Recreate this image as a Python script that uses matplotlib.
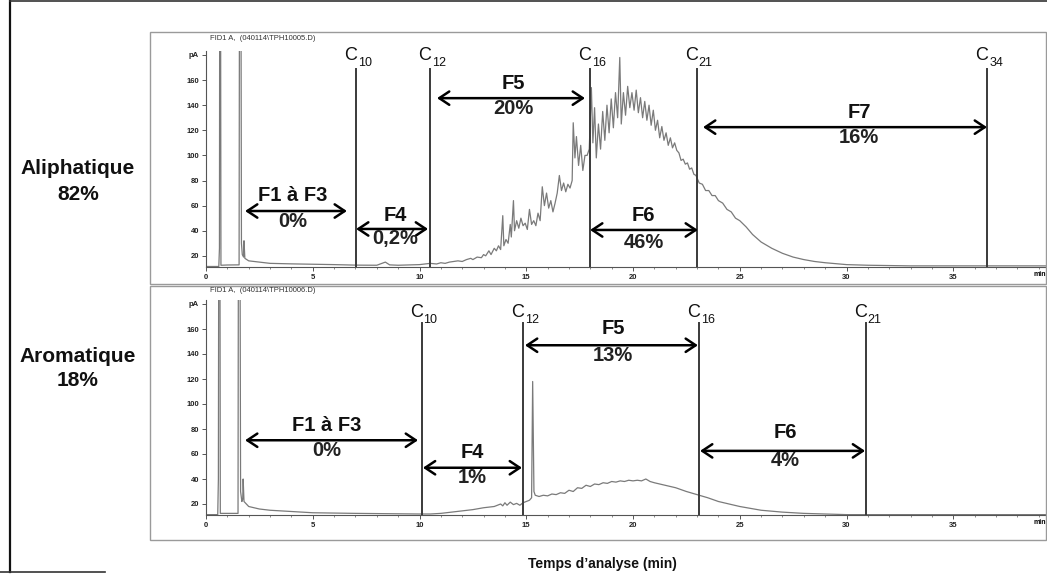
import matplotlib
matplotlib.use("Agg")
import matplotlib.pyplot as plt
from matplotlib.lines import Line2D
from matplotlib.patches import Rectangle
from matplotlib import font_manager

# --- chromatogram data (time in min, FID signal in pA) ---
aliph_time = [0.0, 0.60, 0.63, 0.65, 0.67, 0.70, 1.0, 1.55, 1.58, 1.62, 1.66, 1.70, 1.76, 1.78, 1.82,
              2.0, 2.5, 3.0, 4.0, 5.0, 6.0, 7.0, 8.0, 8.4, 8.6, 9.0, 10.0, 10.5,
              10.8, 11.0, 11.2, 11.4, 11.6, 11.8, 12.0, 12.2, 12.4, 12.5, 12.7, 12.9, 13.0, 13.1,
              13.25, 13.35, 13.5, 13.6, 13.7, 13.8, 13.9, 13.95, 14.05, 14.15, 14.25, 14.3, 14.4,
              14.45, 14.55, 14.65, 14.75, 14.85, 14.95, 15.05, 15.15, 15.25, 15.35, 15.45, 15.55,
              15.65, 15.75, 15.85, 15.95, 16.05, 16.15, 16.25, 16.35, 16.45, 16.55, 16.65, 16.75,
              16.85, 16.95, 17.05, 17.15, 17.2, 17.28, 17.35, 17.45, 17.55, 17.65, 17.75, 17.85,
              17.95, 18.05, 18.12, 18.2, 18.28, 18.38, 18.48, 18.58, 18.68, 18.78, 18.88, 18.98,
              19.08, 19.18, 19.28, 19.38, 19.45, 19.55, 19.65, 19.75, 19.85, 19.95, 20.05, 20.15,
              20.25, 20.35, 20.45, 20.55, 20.65, 20.75, 20.85, 20.95, 21.05, 21.15, 21.25, 21.35,
              21.45, 21.55, 21.65, 21.75, 21.85, 21.95, 22.05, 22.15, 22.25, 22.35, 22.45, 22.55,
              22.65, 22.75, 22.85, 22.95, 23.1, 23.25, 23.4, 23.55, 23.7, 23.85, 24.0, 24.2, 24.4,
              24.6, 24.8, 25.0, 25.3, 25.6, 26.0, 26.5, 27.0, 27.5, 28.0, 28.5, 29.0, 30.0, 31.0,
              33.0, 36.0, 39.4]
aliph_signal = [11.5, 11.5, 26, 400, 400, 12.5, 12.7, 12.8, 400, 400, 30, 21, 19, 32, 18,
                16, 15, 14, 13.6, 13.3, 13, 12.6, 12.5, 15, 12.8, 12.5, 13, 14,
                13.5, 14.5, 14, 15, 15.5, 16, 15.5, 17, 18, 17, 19, 18.5, 21, 20,
                24, 21, 26, 24, 28, 25, 52, 28, 33, 30, 45, 35, 64,
                40, 48, 42, 50, 44, 46, 41, 57, 45, 48, 44, 54,
                48, 75, 60, 70, 58, 64, 55, 62, 70, 84, 72, 78,
                71, 77, 74, 80, 126, 98, 115, 92, 108, 88, 100, 100,
                105, 154, 110, 138, 98, 125, 105, 135, 112, 140, 118, 145,
                122, 150, 130, 178, 125, 150, 132, 155, 138, 150, 136, 152,
                134, 146, 130, 143, 128, 140, 124, 136, 120, 128, 114, 123,
                112, 118, 108, 114, 106, 110, 104, 102, 96, 97, 93, 94,
                89, 90, 85, 84, 78, 77, 72, 72, 68, 68, 64, 62, 57,
                55, 50, 48, 43, 37, 31, 26, 22, 19, 17, 15.5, 14.5, 13, 12.5,
                12, 12, 12]

arom_time = [0.0, 0.55, 0.58, 0.61, 0.64, 0.67, 1.0, 1.50, 1.53, 1.57, 1.62, 1.68, 1.72, 1.74, 1.78,
             2.0, 2.5, 3.0, 4.0, 5.0, 7.0, 10.0, 10.5, 11.0, 11.5, 12.0, 12.5, 13.0, 13.5, 13.8,
             13.9, 14.0, 14.1, 14.25, 14.4, 14.55, 14.7, 14.85, 15.0, 15.15, 15.25, 15.3, 15.36,
             15.42, 15.6, 15.8, 16.0, 16.2, 16.4, 16.6, 16.8, 17.0, 17.2, 17.4, 17.6, 17.8, 18.0,
             18.2, 18.4, 18.6, 18.8, 19.0, 19.2, 19.4, 19.6, 19.8, 20.0, 20.2, 20.4, 20.6, 20.8,
             21.0, 21.5, 22.0, 22.5, 23.0, 23.5, 24.0, 24.5, 25.0, 25.5, 26.0, 27.0, 28.0, 29.0,
             30.0, 35.0, 39.4]
arom_signal = [11.5, 11.5, 40, 400, 400, 12.5, 12.5, 12.5, 400, 400, 30, 22, 24, 40, 22,
               18, 16, 15, 14, 13, 12.5, 12, 12, 12.5, 13.5, 14.5, 15.5, 17, 18, 20,
               18.5, 21, 19, 21.5, 19.5, 20.5, 19, 21, 22, 23, 25, 118, 30,
               27, 26, 27, 26.5, 28, 27.5, 29, 28.5, 31, 30, 33, 32.5, 35, 34,
               36, 35.5, 37, 36.5, 38, 37.5, 38.5, 38, 39, 38.5, 39, 38.5, 40, 38,
               37, 35, 33, 30, 27.5, 25, 22, 20, 18, 16.5, 15, 13.5, 12.5, 12,
               11.5, 11.5, 11.5]

# carbon-number markers (retention time of each n-alkane)
aliph_cuts = [7.03, 10.5, 18.0, 23.0, 36.6]
aliph_carbons = ["10", "12", "16", "21", "34"]
arom_cuts = [10.1, 14.85, 23.1, 30.9]
arom_carbons = ["10", "12", "16", "21"]

# fraction names and their share of each family
aliph_fractions = ["F1 à F3", "F4", "F5", "F6", "F7"]
aliph_shares = ["0%", "0,2%", "20%", "46%", "16%"]
arom_fractions = ["F1 à F3", "F4", "F5", "F6"]
arom_shares = ["0%", "1%", "13%", "4%"]

families = ["Aliphatique", "Aromatique"]
family_shares = ["82%", "18%"]

x_ticks = [0, 5, 10, 15, 20, 25, 30, 35]
y_ticks = [20, 40, 60, 80, 100, 120, 140, 160]

W, H = 1047, 576
installed = {f.name for f in font_manager.fontManager.ttflist}
narrow = "Liberation Sans Narrow" if "Liberation Sans Narrow" in installed else "Liberation Sans"

plt.rcParams["font.family"] = "Liberation Sans"

fig = plt.figure(figsize=(W / 100, H / 100), dpi=100)


def px_axes(left, top, right, bottom):
    return fig.add_axes([left / W, 1 - bottom / H, (right - left) / W, (bottom - top) / H])


def fig_xy(x, y):
    return x / W, 1 - y / H


# panel frames
for top, bottom in [(32, 284), (286, 540)]:
    fig.patches.append(Rectangle(fig_xy(150, bottom), (1046 - 150) / W, (bottom - top) / H,
                                 transform=fig.transFigure, fill=False,
                                 edgecolor="#9a9a9a", lw=1.0))

# outer border
fig.lines.append(Line2D([10 / W, 10 / W], [1 - 572 / H, 1.0], transform=fig.transFigure,
                        color="#111111", lw=1.6))
fig.lines.append(Line2D([10 / W, 1.0], [1 - 1 / H, 1 - 1 / H], transform=fig.transFigure,
                        color="#333333", lw=1.2))
fig.lines.append(Line2D([0, 105 / W], [1 - 572 / H, 1 - 572 / H], transform=fig.transFigure,
                        color="#333333", lw=1.2))


def style_axes(ax, ylim):
    ax.set_xlim(0, 39.39)
    ax.set_ylim(*ylim)
    for s in ["top", "right"]:
        ax.spines[s].set_visible(False)
    for s in ["left", "bottom"]:
        ax.spines[s].set_color("#555555")
        ax.spines[s].set_linewidth(0.8)
    ax.set_xticks(x_ticks)
    ax.set_xticks(range(0, 40), minor=True)
    ax.set_yticks(y_ticks + [180])
    ax.set_yticklabels([str(v) for v in y_ticks] + ["pA"])
    ax.tick_params(axis="both", length=3, width=0.7, color="#555555", labelsize=5.5,
                   labelcolor="#222222", pad=2)
    ax.tick_params(axis="x", which="minor", length=1.5, width=0.6, color="#777777")
    for lab in ax.get_xticklabels() + ax.get_yticklabels():
        lab.set_fontweight("bold")
        lab.set_family(narrow)
    ax.text(39.35, ylim[0] - 3, "min", fontsize=5, fontweight="bold", family=narrow,
            ha="right", va="top", clip_on=False)
    ax.patch.set_alpha(0)


def draw_panel(ax, t, sig, cuts, carbons, c_top, c_base, sub_drop, arrows, names, shares,
               label_pos):
    ax.plot(t, sig, color="#7a7a7a", lw=0.9, zorder=2)
    for x, c in zip(cuts, carbons):
        ax.plot([x, x], [ax.get_ylim()[0], c_top], color="#3a3a3a", lw=1.4, zorder=3)
        ax.text(x + 0.05, c_base, "C", fontsize=13, ha="right", va="baseline", color="#111111")
        ax.text(x + 0.08, c_base - sub_drop, c, fontsize=9, ha="left", va="baseline",
                color="#111111")
    for (x0, x1, y), name, share, (tx, ny, sy) in zip(arrows, names, shares, label_pos):
        ax.annotate("", xy=(x1, y), xytext=(x0, y),
                    arrowprops=dict(arrowstyle="<->,head_length=0.6,head_width=0.4",
                                    lw=1.8, color="black", shrinkA=0, shrinkB=0,
                                    mutation_scale=12), zorder=4)
        ax.text(tx, ny, name, fontsize=14.5, fontweight="bold", ha="center", va="center",
                color="#111111", zorder=5)
        ax.text(tx, sy, share, fontsize=14.5, fontweight="bold", ha="center", va="center",
                color="#222222", zorder=5)


# aliphatic fraction
ax1 = px_axes(206, 50.7, 1047, 267)
style_axes(ax1, (11.1, 183.4))
draw_panel(ax1, aliph_time, aliph_signal, aliph_cuts, aliph_carbons, 169, 176, 4.5,
           [(1.83, 6.6, 55.7), (7.03, 10.4, 41.4), (10.82, 17.75, 145.6),
            (17.99, 23.04, 40.6), (23.28, 36.58, 122.5)],
           aliph_fractions, aliph_shares,
           [(4.05, 68, 47), (8.85, 52.5, 34), (14.38, 157.5, 137),
            (20.5, 52.5, 31), (30.6, 134.5, 114.6)])
fig.text(*fig_xy(210, 38), "FID1 A,  (040114\\TPH10005.D)", fontsize=5.5, family=narrow,
         color="#333333", va="center")

# aromatic fraction
ax2 = px_axes(206, 300, 1047, 515)
style_axes(ax2, (11.2, 183.2))
draw_panel(ax2, arom_time, arom_signal, arom_cuts, arom_carbons, 165, 169.6, 4.5,
           [(1.83, 9.93, 71), (10.16, 14.8, 49), (14.94, 23.04, 147), (23.14, 30.87, 62.5)],
           arom_fractions, arom_shares,
           [(5.67, 83, 63), (12.46, 61, 41), (19.06, 160, 139), (27.12, 77, 55)])
fig.text(*fig_xy(210, 290), "FID1 A,  (040114\\TPH10006.D)", fontsize=5.5, family=narrow,
         color="#333333", va="center")

# family labels on the left
for (fam, share), (y1, y2) in zip(zip(families, family_shares), [(168, 194), (357, 381)]):
    fig.text(*fig_xy(78, y1), fam, fontsize=15, fontweight="bold", ha="center", va="center",
             color="#111111")
    fig.text(*fig_xy(78, y2), share, fontsize=15, fontweight="bold", ha="center", va="center",
             color="#111111")

xlab_size = 12 if narrow != "Liberation Sans" else 10
fig.text(*fig_xy(602, 564), "Temps d’analyse (min)", fontsize=xlab_size, fontweight="bold",
         family=narrow, ha="center", va="center", color="#111111")

fig.savefig("out.png", dpi=100, facecolor="white")
